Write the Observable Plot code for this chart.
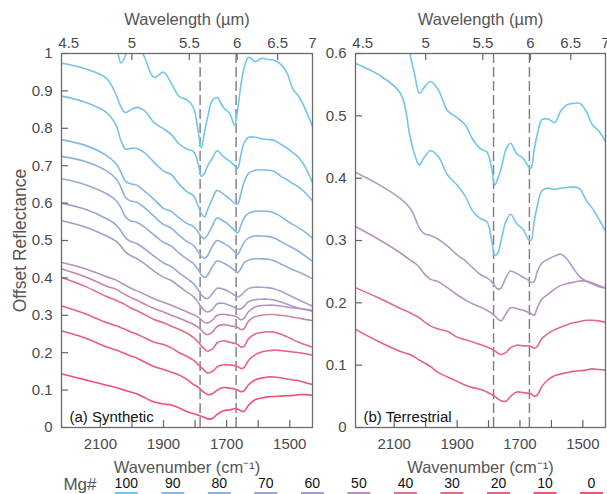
<!DOCTYPE html>
<html><head><meta charset="utf-8">
<script src="https://cdn.jsdelivr.net/npm/d3@7"></script>
<script src="https://cdn.jsdelivr.net/npm/@observablehq/plot@0.6"></script>
<style>
body{margin:0;background:#fff;}
#wrap{width:607px;height:494px;position:relative;overflow:hidden;font-family:"Liberation Sans",Arial,sans-serif;}
#panels{display:flex;position:absolute;left:0;top:0;}
#legend{position:absolute;left:0;top:0;}
</style></head><body>
<div id="wrap"><div id="panels"></div><svg id="legend" width="607" height="494"></svg></div>
<script>
// Wavenumber grid (cm^-1) shared by every spectrum
const wavenumbers = [2222, 2150, 2080, 2050, 2035, 2020, 2005, 1985, 1960, 1930, 1900, 1875, 1850, 1825, 1805, 1790, 1780, 1770, 1760, 1745, 1730, 1710, 1690, 1675, 1665, 1655, 1645, 1630, 1610, 1590, 1570, 1550, 1530, 1510, 1490, 1470, 1450, 1429];

// (a) Synthetic spectra (offset reflectance)
const syn0 = [1.20, 1.17, 1.10, 1.03, 0.975, 0.995, 1.04, 1.03, 0.99, 0.936, 0.950, 0.92, 0.885, 0.876, 0.855, 0.79, 0.748, 0.79, 0.83, 0.875, 0.882, 0.855, 0.84, 0.808, 0.85, 0.915, 0.96, 0.99, 0.978, 0.987, 0.984, 0.982, 0.972, 0.95, 0.905, 0.883, 0.85, 0.807];
const syn1 = [0.974, 0.960, 0.933, 0.89, 0.858, 0.842, 0.849, 0.856, 0.847, 0.815, 0.799, 0.783, 0.758, 0.744, 0.738, 0.705, 0.672, 0.68, 0.70, 0.72, 0.74, 0.724, 0.712, 0.700, 0.693, 0.728, 0.760, 0.776, 0.776, 0.772, 0.770, 0.768, 0.758, 0.748, 0.735, 0.72, 0.695, 0.656];
const syn2 = [0.886, 0.870, 0.842, 0.808, 0.768, 0.744, 0.746, 0.746, 0.735, 0.709, 0.686, 0.676, 0.65, 0.630, 0.620, 0.592, 0.572, 0.563, 0.583, 0.612, 0.634, 0.624, 0.611, 0.600, 0.598, 0.625, 0.655, 0.680, 0.688, 0.689, 0.688, 0.685, 0.673, 0.663, 0.652, 0.642, 0.627, 0.607];
const syn3 = [0.769, 0.755, 0.727, 0.705, 0.683, 0.658, 0.652, 0.648, 0.632, 0.610, 0.586, 0.578, 0.560, 0.545, 0.538, 0.522, 0.510, 0.505, 0.515, 0.540, 0.560, 0.552, 0.540, 0.527, 0.520, 0.540, 0.560, 0.573, 0.578, 0.579, 0.578, 0.574, 0.565, 0.553, 0.543, 0.533, 0.522, 0.507];
const syn4 = [0.725, 0.712, 0.686, 0.665, 0.643, 0.615, 0.606, 0.602, 0.588, 0.565, 0.543, 0.533, 0.513, 0.497, 0.487, 0.47, 0.458, 0.452, 0.460, 0.485, 0.500, 0.493, 0.482, 0.47, 0.463, 0.478, 0.495, 0.507, 0.512, 0.512, 0.511, 0.507, 0.498, 0.489, 0.48, 0.47, 0.458, 0.445];
const syn5 = [0.665, 0.650, 0.625, 0.607, 0.588, 0.563, 0.553, 0.549, 0.536, 0.515, 0.495, 0.485, 0.466, 0.450, 0.438, 0.422, 0.408, 0.401, 0.408, 0.43, 0.445, 0.44, 0.43, 0.42, 0.414, 0.425, 0.44, 0.448, 0.451, 0.451, 0.450, 0.446, 0.438, 0.43, 0.422, 0.415, 0.407, 0.398];
const syn6 = [0.600, 0.584, 0.558, 0.542, 0.526, 0.507, 0.498, 0.492, 0.478, 0.458, 0.440, 0.430, 0.413, 0.398, 0.385, 0.368, 0.355, 0.347, 0.345, 0.358, 0.372, 0.370, 0.362, 0.354, 0.349, 0.353, 0.362, 0.372, 0.375, 0.375, 0.374, 0.371, 0.365, 0.357, 0.349, 0.341, 0.333, 0.325];
const syn7 = [0.553, 0.537, 0.512, 0.498, 0.485, 0.469, 0.460, 0.452, 0.438, 0.418, 0.402, 0.393, 0.377, 0.362, 0.350, 0.334, 0.322, 0.313, 0.309, 0.316, 0.331, 0.332, 0.326, 0.321, 0.317, 0.317, 0.324, 0.337, 0.342, 0.343, 0.343, 0.341, 0.336, 0.330, 0.324, 0.319, 0.315, 0.311];
const syn8 = [0.441, 0.425, 0.403, 0.394, 0.387, 0.380, 0.373, 0.366, 0.356, 0.344, 0.335, 0.327, 0.318, 0.309, 0.302, 0.295, 0.288, 0.281, 0.279, 0.287, 0.300, 0.303, 0.300, 0.298, 0.294, 0.288, 0.292, 0.31, 0.322, 0.326, 0.327, 0.327, 0.325, 0.322, 0.32, 0.318, 0.316, 0.313];
const syn9 = [0.424, 0.404, 0.378, 0.37, 0.362, 0.355, 0.348, 0.341, 0.330, 0.318, 0.309, 0.300, 0.292, 0.283, 0.276, 0.268, 0.26, 0.252, 0.248, 0.255, 0.270, 0.275, 0.272, 0.270, 0.268, 0.262, 0.264, 0.285, 0.296, 0.30, 0.302, 0.302, 0.30, 0.298, 0.295, 0.292, 0.289, 0.286];
const syn10 = [0.401, 0.378, 0.350, 0.340, 0.334, 0.328, 0.320, 0.313, 0.302, 0.289, 0.280, 0.271, 0.262, 0.252, 0.240, 0.228, 0.218, 0.210, 0.204, 0.210, 0.226, 0.232, 0.228, 0.225, 0.222, 0.215, 0.217, 0.238, 0.25, 0.254, 0.256, 0.255, 0.25, 0.243, 0.235, 0.227, 0.221, 0.215];
const syn11 = [0.325, 0.305, 0.280, 0.272, 0.267, 0.262, 0.256, 0.250, 0.240, 0.228, 0.222, 0.213, 0.200, 0.19, 0.18, 0.168, 0.16, 0.152, 0.146, 0.150, 0.162, 0.168, 0.167, 0.166, 0.163, 0.158, 0.16, 0.18, 0.194, 0.202, 0.205, 0.207, 0.206, 0.204, 0.202, 0.2, 0.197, 0.193];
const syn12 = [0.258, 0.24, 0.215, 0.207, 0.202, 0.197, 0.192, 0.186, 0.175, 0.163, 0.155, 0.148, 0.14, 0.128, 0.115, 0.108, 0.100, 0.093, 0.088, 0.09, 0.10, 0.107, 0.105, 0.103, 0.100, 0.096, 0.098, 0.115, 0.127, 0.132, 0.135, 0.135, 0.133, 0.13, 0.127, 0.125, 0.12, 0.115];
const syn13 = [0.143, 0.128, 0.113, 0.107, 0.103, 0.099, 0.095, 0.090, 0.080, 0.068, 0.063, 0.060, 0.052, 0.042, 0.037, 0.033, 0.030, 0.027, 0.023, 0.024, 0.035, 0.045, 0.047, 0.05, 0.049, 0.045, 0.043, 0.06, 0.074, 0.079, 0.082, 0.083, 0.084, 0.085, 0.086, 0.088, 0.088, 0.086];
const synCurves = [syn0, syn1, syn2, syn3, syn4, syn5, syn6, syn7, syn8, syn9, syn10, syn11, syn12, syn13];
const synMg = [100, 95, 90, 85, 80, 75, 70, 60, 50, 45, 30, 20, 10, 0];

// (b) Terrestrial spectra
const ter0 = [0.76, 0.74, 0.70, 0.60, 0.567, 0.536, 0.545, 0.555, 0.542, 0.508, 0.497, 0.486, 0.462, 0.447, 0.442, 0.415, 0.389, 0.40, 0.415, 0.445, 0.456, 0.439, 0.432, 0.42, 0.416, 0.445, 0.47, 0.494, 0.495, 0.489, 0.508, 0.518, 0.520, 0.520, 0.508, 0.486, 0.476, 0.46];
const ter1 = [0.584, 0.566, 0.536, 0.468, 0.438, 0.421, 0.433, 0.444, 0.435, 0.405, 0.389, 0.372, 0.347, 0.335, 0.330, 0.300, 0.276, 0.28, 0.30, 0.33, 0.342, 0.327, 0.318, 0.303, 0.300, 0.33, 0.355, 0.38, 0.384, 0.382, 0.384, 0.385, 0.386, 0.383, 0.365, 0.352, 0.335, 0.316];
const ter2 = [0.409, 0.390, 0.367, 0.352, 0.338, 0.320, 0.311, 0.308, 0.302, 0.291, 0.277, 0.268, 0.256, 0.245, 0.240, 0.234, 0.227, 0.222, 0.224, 0.240, 0.251, 0.247, 0.241, 0.237, 0.233, 0.234, 0.25, 0.264, 0.27, 0.275, 0.278, 0.27, 0.255, 0.242, 0.235, 0.23, 0.226, 0.224];
const ter3 = [0.322, 0.302, 0.280, 0.269, 0.264, 0.257, 0.247, 0.238, 0.234, 0.224, 0.213, 0.205, 0.198, 0.193, 0.188, 0.183, 0.179, 0.174, 0.171, 0.182, 0.192, 0.191, 0.188, 0.185, 0.183, 0.180, 0.192, 0.206, 0.214, 0.222, 0.228, 0.231, 0.233, 0.235, 0.235, 0.232, 0.228, 0.224];
const ter4 = [0.224, 0.208, 0.191, 0.184, 0.180, 0.176, 0.170, 0.163, 0.158, 0.154, 0.145, 0.141, 0.137, 0.133, 0.129, 0.126, 0.123, 0.119, 0.117, 0.12, 0.128, 0.132, 0.131, 0.131, 0.130, 0.127, 0.13, 0.143, 0.151, 0.157, 0.161, 0.165, 0.168, 0.170, 0.172, 0.172, 0.171, 0.169];
const ter5 = [0.157, 0.138, 0.122, 0.117, 0.113, 0.108, 0.104, 0.098, 0.088, 0.081, 0.074, 0.068, 0.064, 0.061, 0.057, 0.053, 0.050, 0.046, 0.043, 0.042, 0.05, 0.057, 0.056, 0.055, 0.054, 0.05, 0.052, 0.066, 0.077, 0.083, 0.086, 0.088, 0.090, 0.091, 0.092, 0.094, 0.093, 0.092];
const terCurves = [ter0, ter1, ter2, ter3, ter4, ter5];
const terMg = [100, 95, 67, 50, 30, 18];

// Legend / colour key
const legendMg = [100, 90, 80, 70, 60, 50, 40, 30, 20, 10, 0];
const legendColors = ["#6fc7ec", "#7dbee5", "#8cb2db", "#9ba6d0", "#a99cc7", "#b891c0", "#dc7597", "#e46a8a", "#e96181", "#ee5978", "#f2516f"];

// Axis values
const wnTicks = [2100, 2000, 1900, 1800, 1700, 1600, 1500];
const wnLabels = [2100, 1900, 1700, 1500];
const lambdaLabels = [4.5, 5, 5.5, 6, 6.5, 7];
const lambdaInnerTicks = [5, 5.5, 6, 6.5];
const dashedLines = [1784, 1670];
const synYTicks = [0, 0.1, 0.2, 0.3, 0.4, 0.5, 0.6, 0.7, 0.8, 0.9, 1];
const terYTicks = [0, 0.1, 0.2, 0.3, 0.4, 0.5, 0.6];
const xDomain = [2223, 1428];

const colorOf = d3.scaleLinear().domain(legendMg).range(legendColors);
function longData(curves, mgs) {
  return curves.flatMap((arr, i) => arr.map((v, j) => ({w: wavenumbers[j], v, id: i, color: colorOf(mgs[i])})));
}

const H = 494, MT = 53, MB = 67;
const FONT = "'Liberation Sans', Arial, Helvetica, sans-serif";
const lamFmt = d => String(Math.round(1e5 / d) / 10);
const yFmt = d => String(+d.toFixed(1));

function panel({data, width, marginLeft, marginRight, yMax, yTicks, label, yTitle}) {
  const plotW = width - marginLeft - marginRight;
  const plotH = H - MT - MB;
  const marks = [
    Plot.ruleX(dashedLines, {stroke: "#7d7d7d", strokeWidth: 1.4, strokeDasharray: "10,4"}),
    Plot.line(data, {x: "w", y: "v", z: "id", stroke: "color", strokeWidth: 1.6, curve: "catmull-rom", clip: true}),
    Plot.ruleX(wnTicks, {stroke: "#666", strokeWidth: 1.2, insetTop: plotH - 7}),
    Plot.ruleX(lambdaInnerTicks.map(l => 1e4 / l), {stroke: "#666", strokeWidth: 1.2, insetBottom: plotH - 7}),
    Plot.ruleY(yTicks, {stroke: "#666", strokeWidth: 1.2, insetRight: plotW - 7}),
    Plot.frame({stroke: "#6a6a6a", strokeWidth: 1.3}),
    Plot.axisX({anchor: "bottom", ticks: wnLabels, tickSize: 0, tickPadding: 11, label: null, tickFormat: d => String(d), fontSize: 15}),
    Plot.axisX({anchor: "top", ticks: lambdaLabels.slice(1).map(l => 1e4 / l), tickSize: 0, tickPadding: 6, label: null, tickFormat: lamFmt, fontSize: 15}),
    Plot.axisX({anchor: "top", ticks: [1e4 / lambdaLabels[0]], tickSize: 0, tickPadding: 6, dx: 7, label: null, tickFormat: lamFmt, fontSize: 15}),
    Plot.axisY({anchor: "left", ticks: yTicks, tickSize: 0, tickPadding: 9, label: null, tickFormat: yFmt, fontSize: 15}),
    Plot.text(["Wavelength (µm)"], {frameAnchor: "top", dy: -40, fontSize: 16.5, fill: "#555"}),
    Plot.text(["Wavenumber (cm⁻¹)"], {frameAnchor: "bottom", dy: 45, fontSize: 16.5, fill: "#555"}),
    Plot.text([label], {frameAnchor: "bottom-left", dx: 8, dy: -6, fontSize: 15, fill: "#111"})
  ];
  if (yTitle) marks.push(Plot.text([yTitle], {frameAnchor: "left", rotate: -90, textAnchor: "middle", dx: -41, fontSize: 17.5, fill: "#555"}));
  return Plot.plot({
    width, height: H, marginTop: MT, marginBottom: MB, marginLeft, marginRight,
    style: {fontFamily: FONT, fontSize: "15px", color: "#4a4a4a", background: "transparent", overflow: "visible"},
    x: {domain: xDomain},
    y: {domain: [0, yMax]},
    color: {type: "identity"},
    marks
  });
}

const left = panel({data: longData(synCurves, synMg), width: 330, marginLeft: 61, marginRight: 18, yMax: 1, yTicks: synYTicks, label: "(a) Synthetic", yTitle: "Offset Reflectance"});
const right = panel({data: longData(terCurves, terMg), width: 277, marginLeft: 25, marginRight: 2, yMax: 0.6, yTicks: terYTicks, label: "(b) Terrestrial", yTitle: null});
document.getElementById("panels").append(left, right);

// Legend
const lg = d3.select("#legend").style("font-family", FONT);
lg.append("text").attr("x", 80).attr("y", 489.5).attr("text-anchor", "middle").attr("font-size", 17).attr("fill", "#555").text("Mg#");
const lx = d3.scalePoint().domain(legendMg).range([126.3, 591.5]);
legendMg.forEach((m, i) => {
  lg.append("text").attr("x", lx(m)).attr("y", 488).attr("text-anchor", "middle").attr("font-size", 14).attr("fill", "#111").text(String(m));
  lg.append("rect").attr("x", lx(m) - 11.5).attr("y", 492).attr("width", 23).attr("height", 3).attr("fill", legendColors[i]);
});
</script>
</body></html>
